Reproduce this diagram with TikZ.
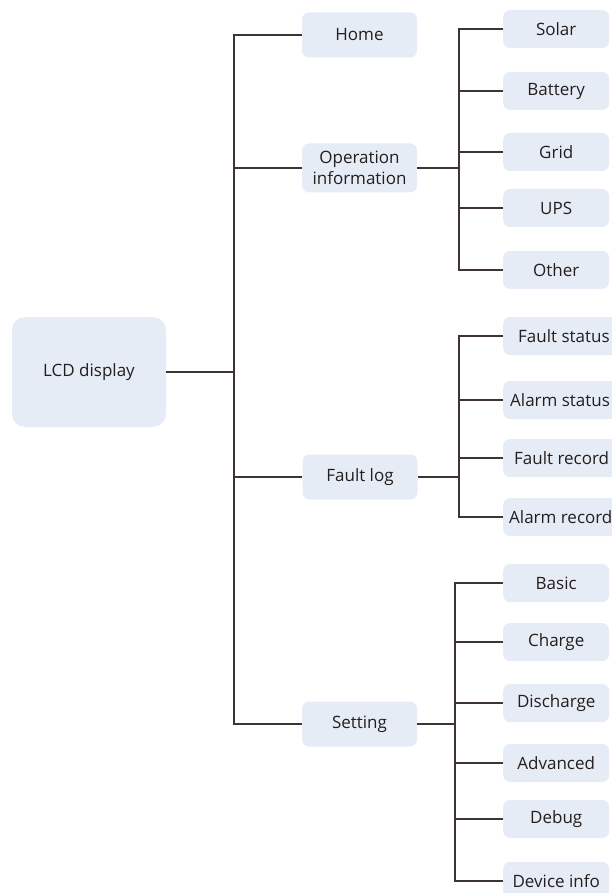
\documentclass[tikz,border=0pt]{standalone}
\usepackage{fontspec}
\setmainfont{Open Sans}
\definecolor{boxfill}{RGB}{230,236,246}
\definecolor{linec}{RGB}{62,52,52}
\definecolor{txtc}{RGB}{36,30,30}
\begin{document}
\begin{tikzpicture}[x=1pt,y=-1pt,
  box/.style={fill=boxfill, rounded corners=7pt, inner xsep=0pt, inner ysep=0pt, text=txtc,
    font=\fontsize{17}{20.7}\selectfont, align=center},
  root/.style={box, rounded corners=13pt, minimum width=154pt, minimum height=110pt},
  lvltwo/.style={box, minimum width=115pt, minimum height=45pt},
  leaf/.style={box, anchor=west, minimum width=106pt, minimum height=38pt},
  conn/.style={draw=linec, line width=1.5pt}]
\useasboundingbox (0,0) rectangle (611,893);

% root
\node[root] (lcd) at (89,372) {LCD display};

% level two
\node[lvltwo] (home) at (359.5,35) {Home};
\node[lvltwo, minimum height=49pt] (opinfo) at (359.5,168) {Operation\\information};
\node[lvltwo] (faultlog) at (360,477) {Fault log};
\node[lvltwo] (setting) at (359.5,724) {Setting};

% leaves of Operation information
\node[leaf] (solar) at (503,29) {Solar};
\node[leaf] (battery) at (503,91) {Battery};
\node[leaf] (grid) at (503,152) {Grid};
\node[leaf] (ups) at (503,208) {UPS};
\node[leaf] (other) at (503,270) {Other};

% leaves of Fault log
\node[leaf, inner xsep=15pt] (fstatus) at (503,336) {Fault status};
\node[leaf, inner xsep=7pt] (astatus) at (503,400) {Alarm status};
\node[leaf, inner xsep=11pt] (frecord) at (503,458) {Fault record};
\node[leaf, inner xsep=6pt] (arecord) at (503,517) {Alarm record};

% leaves of Setting
\node[leaf] (basic) at (503,583) {Basic};
\node[leaf] (charge) at (503,642) {Charge};
\node[leaf] (discharge) at (503,703) {Discharge};
\node[leaf] (advanced) at (503,763) {Advanced};
\node[leaf] (debug) at (503,819) {Debug};
\node[leaf] (devinfo) at (503,881) {Device info};

% trunk
\coordinate (T) at (234,0);
\draw[conn] (home.west) -| (T |- setting.west) -- (setting.west);
\draw[conn] (lcd.east) -- (lcd.east -| T);
\draw[conn] (opinfo.west) -- (opinfo.west -| T);
\draw[conn] (faultlog.west) -- (faultlog.west -| T);

% bracket for Operation information
\coordinate (B1) at (459,0);
\draw[conn] (solar.west) -| (B1 |- other.west) -- (other.west);
\draw[conn] (opinfo.east) -- (opinfo.east -| B1);
\foreach \n in {battery,grid,ups} \draw[conn] (\n.west) -- (\n.west -| B1);

% bracket for Fault log
\coordinate (B2) at (459,0);
\draw[conn] (fstatus.west) -| (B2 |- arecord.west) -- (arecord.west);
\draw[conn] (faultlog.east) -- (faultlog.east -| B2);
\foreach \n in {astatus,frecord} \draw[conn] (\n.west) -- (\n.west -| B2);

% bracket for Setting
\coordinate (B3) at (455,0);
\draw[conn] (basic.west) -| (B3 |- devinfo.west) -- (devinfo.west);
\draw[conn] (setting.east) -- (setting.east -| B3);
\foreach \n in {charge,discharge,advanced,debug} \draw[conn] (\n.west) -- (\n.west -| B3);
\end{tikzpicture}
\end{document}
